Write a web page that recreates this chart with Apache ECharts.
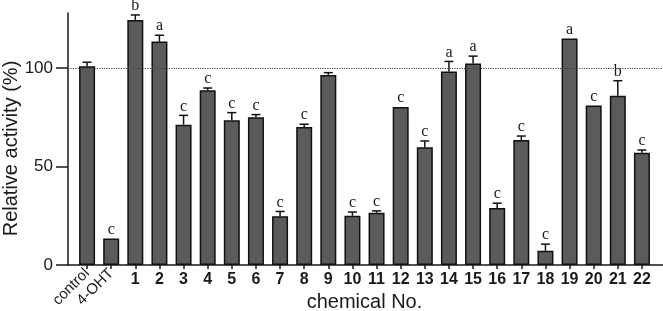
<!DOCTYPE html>
<html>
<head>
<meta charset="utf-8">
<script src="https://cdn.jsdelivr.net/npm/echarts@6/dist/echarts.min.js"></script>
<style>
  html, body { margin: 0; padding: 0; background: #fff; }
  #chart { width: 663px; height: 311px; }
</style>
</head>
<body>
<div id="chart"></div>
<script>
// chemicals on the x axis
const categories = ['control', '4-OHT', '1', '2', '3', '4', '5', '6', '7', '8', '9', '10',
                    '11', '12', '13', '14', '15', '16', '17', '18', '19', '20', '21', '22'];
// relative activity (%)
const values = [101, 13.5, 124.5, 113.5, 71.3, 88.7, 73.5, 75, 24.8, 70.1, 96.5, 25,
                26.5, 80.3, 59.8, 98.3, 102.4, 28.9, 63.5, 7.2, 115, 81, 86, 57];
// upper error bar (SD)
const errors = [2, 0, 2.5, 3.2, 4.7, 1.2, 3.9, 1.4, 2.4, 1.4, 1.2, 1.9,
                1.0, 0, 3.2, 5.1, 3.7, 2.5, 2.0, 3.4, 0, 0, 7.6, 1.4];
// significance letters
const letters = ['', 'c', 'b', 'a', 'c', 'c', 'c', 'c', 'c', 'c', '', 'c',
                 'c', 'c', 'c', 'a', 'a', 'c', 'c', 'c', 'a', 'c', 'b', 'c'];
const refLevel = 100;
const yTickValues = [0, 50, 100];
const yRange = { min: 0, max: 128 };

const SANS = '"Liberation Sans", Arial, sans-serif';
const SERIF = '"Liberation Serif", "Times New Roman", serif';
const INK = '#1a1a1a';

const chart = echarts.init(document.getElementById('chart'));

const option = {
  backgroundColor: '#fff',
  animation: false,
  grid: [
    { left: 75, right: 9, top: 13, bottom: 46, outerBoundsMode: 'none' },   // bars
    { left: 68, right: 0, top: 13, bottom: 46, outerBoundsMode: 'none' }    // base line + dotted ref
  ],
  xAxis: [
    {
      type: 'category', gridIndex: 0, data: categories,
      axisLine: { show: false },
      axisTick: { show: true, alignWithLabel: true, length: 4, lineStyle: { color: INK, width: 1.5 } },
      axisLabel: {
        interval: 0, margin: 7, color: INK, fontFamily: SANS, fontSize: 16, fontWeight: 'bold',
        formatter: (v, i) => (i < 2 ? '' : v)
      },
      name: 'chemical No.', nameLocation: 'middle', nameGap: 27, nameMoveOverlap: false,
      nameTextStyle: { fontFamily: SANS, fontSize: 20, color: INK }
    },
    {
      type: 'category', gridIndex: 0, data: categories, position: 'bottom',
      axisLine: { show: false }, axisTick: { show: false },
      axisLabel: {
        interval: 0, rotate: 45, margin: 6, color: INK, fontFamily: SANS, fontSize: 15,
        formatter: (v, i) => (i < 2 ? v : '')
      }
    },
    {
      type: 'value', gridIndex: 1, min: 0, max: 1,
      axisLine: { show: true, lineStyle: { color: INK, width: 1.5 } },
      axisTick: { show: false }, axisLabel: { show: false }, splitLine: { show: false }
    }
  ],
  yAxis: [
    {
      type: 'value', gridIndex: 0, min: yRange.min, max: yRange.max,
      offset: 7,
      axisLine: { show: true, lineStyle: { color: INK, width: 1.5 } },
      axisTick: { show: true, length: 12, customValues: yTickValues, lineStyle: { color: INK, width: 1.5 } },
      axisLabel: { margin: 15, customValues: yTickValues, color: INK, fontFamily: SANS, fontSize: 17 },
      splitLine: { show: false },
      name: 'Relative activity (%)', nameLocation: 'middle', nameGap: 47, nameMoveOverlap: false,
      nameTextStyle: { fontFamily: SANS, fontSize: 20, color: INK, padding: [0, 19, 0, 0] }
    },
    {
      type: 'value', gridIndex: 1, min: yRange.min, max: yRange.max, show: false
    }
  ],
  series: [
    {
      type: 'bar', xAxisIndex: 0, yAxisIndex: 0,
      data: values, barWidth: 16,
      itemStyle: { color: '#5b5b5b', borderColor: '#111', borderWidth: 1.5 }
    },
    {
      type: 'custom', xAxisIndex: 0, yAxisIndex: 0,
      data: categories.map((c, i) => [i, values[i], errors[i]]),
      renderItem: (params, api) => {
        const i = api.value(0), v = api.value(1), e = api.value(2);
        const base = api.coord([i, v]);
        const top = api.coord([i, v + e]);
        const children = [];
        if (e > 0) {
          children.push({ type: 'line', shape: { x1: base[0], y1: base[1], x2: top[0], y2: top[1] },
                          style: { stroke: '#111', lineWidth: 1.5 } });
          children.push({ type: 'line', shape: { x1: top[0] - 4.5, y1: top[1], x2: top[0] + 4.5, y2: top[1] },
                          style: { stroke: '#111', lineWidth: 1.5 } });
        }
        const letter = letters[params.dataIndex];
        if (letter) {
          children.push({ type: 'text', style: {
            text: letter, x: top[0], y: top[1] - 1, align: 'center', verticalAlign: 'bottom',
            fontFamily: SERIF, fontSize: 16, fill: INK } });
        }
        return { type: 'group', children };
      },
      z: 3
    },
    {
      type: 'line', xAxisIndex: 2, yAxisIndex: 1, data: [],
      markLine: {
        silent: true, symbol: 'none', label: { show: false },
        lineStyle: { type: 'dotted', color: '#444', width: 1.2 },
        data: [{ yAxis: refLevel }]
      }
    }
  ]
};

chart.setOption(option);
window.addEventListener('resize', () => chart.resize());
</script>
</body>
</html>
